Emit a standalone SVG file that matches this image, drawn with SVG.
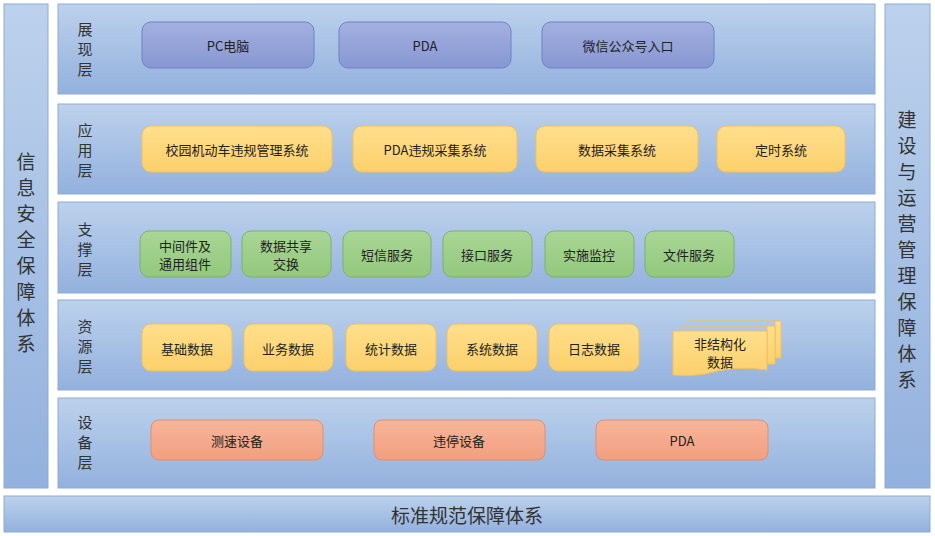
<svg xmlns="http://www.w3.org/2000/svg" width="935" height="536" viewBox="0 0 935 536">
<defs>
<linearGradient id="bg" x1="0" y1="0" x2="0" y2="1"><stop offset="0" stop-color="#bcd1ec"/><stop offset="1" stop-color="#93b1de"/></linearGradient>
<linearGradient id="bl" x1="0" y1="0" x2="0" y2="1"><stop offset="0" stop-color="#a3b0e0"/><stop offset="1" stop-color="#8797d2"/></linearGradient>
<linearGradient id="ye" x1="0" y1="0" x2="0" y2="1"><stop offset="0" stop-color="#ffdf8c"/><stop offset="1" stop-color="#fcd06c"/></linearGradient>
<linearGradient id="gr" x1="0" y1="0" x2="0" y2="1"><stop offset="0" stop-color="#a9d696"/><stop offset="1" stop-color="#92c87c"/></linearGradient>
<linearGradient id="sa" x1="0" y1="0" x2="0" y2="1"><stop offset="0" stop-color="#f7b59a"/><stop offset="1" stop-color="#f29f80"/></linearGradient>
</defs>
<style>
text{font-family:"Noto Sans CJK SC","Liberation Sans",sans-serif;fill:#222;text-anchor:middle;dominant-baseline:central}
.L{fill:url(#bg);stroke:#8fabd3;stroke-width:1}
.b{fill:url(#bl);stroke:#6f82c4}
.y{fill:url(#ye);stroke:#f1c15c}
.g{fill:url(#gr);stroke:#7fb268}
.s{fill:url(#sa);stroke:#de9072}
.n{font-size:13px}
.t{font-size:15px;fill:#333}
.big{font-size:19px;fill:#333}
</style>
<rect width="935" height="536" fill="#fff"/>
<g id="left"><rect class="L" x="4" y="4" width="44" height="484"/>
<text class="big"><tspan x="26" y="160">信</tspan><tspan x="26" y="186">息</tspan><tspan x="26" y="212">安</tspan><tspan x="26" y="238">全</tspan><tspan x="26" y="264">保</tspan><tspan x="26" y="290">障</tspan><tspan x="26" y="316">体</tspan><tspan x="26" y="342">系</tspan></text></g>
<g id="right"><rect class="L" x="885" y="4" width="45" height="484"/>
<text class="big"><tspan x="907" y="118">建</tspan><tspan x="907" y="144">设</tspan><tspan x="907" y="170">与</tspan><tspan x="907" y="196">运</tspan><tspan x="907" y="222">营</tspan><tspan x="907" y="248">管</tspan><tspan x="907" y="274">理</tspan><tspan x="907" y="300">保</tspan><tspan x="907" y="326">障</tspan><tspan x="907" y="352">体</tspan><tspan x="907" y="378">系</tspan></text></g>
<g id="bottom"><rect class="L" x="4" y="496" width="926" height="36"/><text class="big" x="467" y="514">标准规范保障体系</text></g>
<g id="layer1"><rect class="L" x="58" y="4" width="817" height="90"/>
<text class="t"><tspan x="85" y="28">展</tspan><tspan x="85" y="48">现</tspan><tspan x="85" y="68">层</tspan></text>
<rect class="b" x="142" y="22" width="172" height="46" rx="9"/><text class="n" x="228" y="45">PC电脑</text>
<rect class="b" x="339" y="22" width="172" height="46" rx="9"/><text class="n" x="425" y="45">PDA</text>
<rect class="b" x="542" y="22" width="172" height="46" rx="9"/><text class="n" x="628" y="45">微信公众号入口</text></g>
<g id="layer2"><rect class="L" x="58" y="104" width="817" height="90"/>
<text class="t"><tspan x="85" y="129">应</tspan><tspan x="85" y="149">用</tspan><tspan x="85" y="169">层</tspan></text>
<rect class="y" x="142" y="126" width="190" height="46" rx="9"/><text class="n" x="237" y="149">校园机动车违规管理系统</text>
<rect class="y" x="353" y="126" width="164" height="46" rx="9"/><text class="n" x="435" y="149">PDA违规采集系统</text>
<rect class="y" x="536" y="126" width="162" height="46" rx="9"/><text class="n" x="617" y="149">数据采集系统</text>
<rect class="y" x="717" y="126" width="128" height="46" rx="9"/><text class="n" x="781" y="149">定时系统</text></g>
<g id="layer3"><rect class="L" x="58" y="202" width="817" height="91"/>
<text class="t"><tspan x="85" y="228">支</tspan><tspan x="85" y="248">撑</tspan><tspan x="85" y="268">层</tspan></text>
<rect class="g" x="140" y="231" width="91" height="46" rx="9"/><text class="n"><tspan x="185" y="245">中间件及</tspan><tspan x="185" y="263">通用组件</tspan></text>
<rect class="g" x="242" y="231" width="89" height="46" rx="9"/><text class="n"><tspan x="286" y="245">数据共享</tspan><tspan x="286" y="263">交换</tspan></text>
<rect class="g" x="343" y="231" width="88" height="46" rx="9"/><text class="n" x="387" y="254">短信服务</text>
<rect class="g" x="443" y="231" width="89" height="46" rx="9"/><text class="n" x="487" y="254">接口服务</text>
<rect class="g" x="545" y="231" width="89" height="46" rx="9"/><text class="n" x="589" y="254">实施监控</text>
<rect class="g" x="645" y="231" width="89" height="46" rx="9"/><text class="n" x="689" y="254">文件服务</text></g>
<g id="layer4"><rect class="L" x="58" y="300" width="817" height="90"/>
<text class="t"><tspan x="85" y="325">资</tspan><tspan x="85" y="345">源</tspan><tspan x="85" y="365">层</tspan></text>
<rect class="y" x="142" y="324" width="90" height="47" rx="9"/><text class="n" x="187" y="348">基础数据</text>
<rect class="y" x="244" y="324" width="89" height="47" rx="9"/><text class="n" x="288" y="348">业务数据</text>
<rect class="y" x="346" y="324" width="90" height="47" rx="9"/><text class="n" x="391" y="348">统计数据</text>
<rect class="y" x="447" y="324" width="90" height="47" rx="9"/><text class="n" x="492" y="348">系统数据</text>
<rect class="y" x="549" y="324" width="90" height="47" rx="9"/><text class="n" x="594" y="348">日志数据</text>
<path class="y" d="M689 321H781V358H775V321"/>
<path class="y" d="M681 326H775V364H767V326"/>
<path class="y" d="M673 331H767V370Q735 365 705 374Q690 377 673 375Z"/>
<text class="n" x="720" y="343">非结构化</text>
<text class="n" x="720" y="361">数据</text></g>
<g id="layer5"><rect class="L" x="58" y="398" width="817" height="90"/>
<text class="t"><tspan x="85" y="421">设</tspan><tspan x="85" y="441">备</tspan><tspan x="85" y="461">层</tspan></text>
<rect class="s" x="151" y="420" width="172" height="40" rx="8"/><text class="n" x="237" y="440">测速设备</text>
<rect class="s" x="374" y="420" width="171" height="40" rx="8"/><text class="n" x="459" y="440">违停设备</text>
<rect class="s" x="596" y="420" width="172" height="40" rx="8"/><text class="n" x="682" y="440">PDA</text></g>
<g id="connectors"/>
</svg>
